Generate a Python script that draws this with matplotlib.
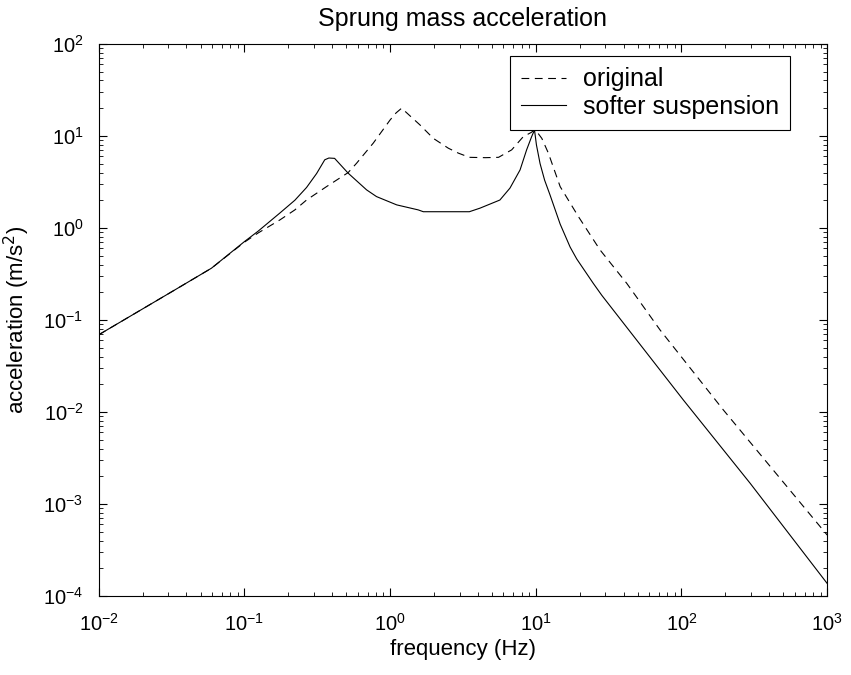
import matplotlib
matplotlib.use("Agg")
import matplotlib.pyplot as plt

plt.rcParams["font.family"] = ["Liberation Sans", "DejaVu Sans"]
plt.rcParams["axes.unicode_minus"] = False

# values (Hz, m/s^2)
freq_orig = [0.01, 0.0333, 0.0594, 0.1, 0.124, 0.175, 0.222, 0.267, 0.366,
             0.515, 0.589, 0.766, 1.0, 1.1, 1.2, 1.4, 1.6, 1.98, 2.51, 2.94,
             3.5, 4.5, 5.55, 6.83, 8.2, 9.3, 9.8, 10.3, 11.0, 12.2, 14.7,
             19.6, 27.6, 42.1, 71.3, 194.0, 895.0, 1000.0]
acc_orig = [0.069, 0.212, 0.365, 0.70, 0.88, 1.22, 1.57, 2.01, 2.81,
            3.99, 5.05, 8.34, 14.9, 17.8, 20.0, 16.0, 13.2, 9.4, 7.35, 6.5,
            5.85, 5.8, 5.85, 7.05, 9.8, 10.9, 11.6, 10.8, 9.4, 6.5, 2.81,
            1.33, 0.577, 0.25, 0.0778, 0.0105, 5.68e-4, 4.6e-4]

freq_soft = [0.01, 0.0333, 0.0594, 0.1, 0.124, 0.175, 0.222, 0.267,
             0.313, 0.356, 0.38, 0.416, 0.515, 0.69, 0.807, 1.11, 1.56, 1.69,
             3.5, 4.14, 5.67, 6.65, 7.8, 8.65, 9.36, 9.8, 10.1, 10.7, 11.5,
             12.5, 14.7, 17.2, 19.1, 24.8, 28.4, 103.0, 296.0, 1000.0]
acc_soft = [0.069, 0.212, 0.365, 0.71, 0.92, 1.45, 2.0, 2.75,
            3.9, 5.5, 5.75, 5.7, 3.94, 2.59, 2.19, 1.78, 1.57, 1.50,
            1.50, 1.64, 2.01, 2.71, 4.27, 7.05, 9.8, 11.6, 8.0, 5.0, 3.3,
            2.3, 1.1, 0.62, 0.46, 0.25, 0.185, 0.0135, 1.68e-3, 1.37e-4]

fig = plt.figure(figsize=(8.51, 6.75), dpi=100)
ax = fig.add_axes([0.116, 0.117, 0.856, 0.818])

ax.loglog(freq_orig, acc_orig, color="black", linestyle=(0, (7, 5)),
          linewidth=0.8, label="original")
ax.loglog(freq_soft, acc_soft, color="black", linestyle="-",
          linewidth=0.8, label="softer suspension")

ax.set_xlim(1e-2, 1e3)
ax.set_ylim(1e-4, 1e2)
ax.tick_params(which="both", direction="in", top=True, right=True,
               labelsize=14.5)
ax.tick_params(axis="x", which="both", pad=12)
ax.tick_params(axis="y", which="both", pad=11)
ax.tick_params(which="major", length=6)
ax.tick_params(which="minor", length=3)
for s in ax.spines.values():
    s.set_linewidth(0.8)

ax.set_title("Sprung mass acceleration", fontsize=18, pad=13)
ax.set_xlabel("frequency (Hz)", fontsize=16, labelpad=3)
ax.set_ylabel("acceleration (m/s$^2$)", fontsize=16, labelpad=8)

leg = ax.legend(loc="upper right", bbox_to_anchor=(0.949, 0.978),
                borderaxespad=0, fontsize=18, fancybox=False, framealpha=1,
                edgecolor="black", handlelength=1.8, handletextpad=0.65,
                borderpad=0.45, labelspacing=0.15)
leg.get_frame().set_linewidth(0.8)

fig.savefig("out.png", dpi=100)
